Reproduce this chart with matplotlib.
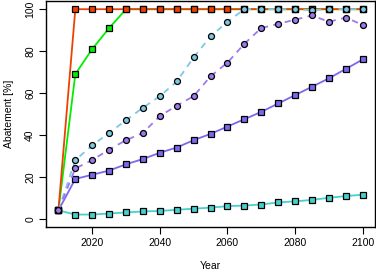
import matplotlib
matplotlib.use("Agg")
import matplotlib.pyplot as plt

plt.rcParams['font.family'] = ['Liberation Sans', 'DejaVu Sans']

years = list(range(2010, 2101, 5))

orange = [4] + [100] * 18
green = [4, 69, 81, 91] + [100] * 15
skyblue = [4, 28, 35, 41, 47, 53, 58.5, 65.5, 77, 87, 94, 100, 100, 100, 100, 99.5, 100, 100, 100]
purple_dash = [4, 24, 28, 33, 37.5, 41, 49, 54, 58.5, 68, 74.5, 83.5, 91, 93, 95, 97, 94, 96, 92.5]
purple = [4, 19, 21, 23, 26, 28.5, 31.5, 34, 37.5, 40.5, 44, 47.5, 51, 55, 59, 63, 67, 71.5, 76]
turq = [4, 2, 2, 2.5, 3, 3.5, 3.7, 4.3, 4.8, 5.3, 6, 6.3, 6.8, 7.8, 8.3, 9, 10, 10.8, 11.5]

fig = plt.figure(figsize=(3.76, 2.73), dpi=100)
ax = fig.add_axes([0.123, 0.168, 0.874, 0.829])

sq = dict(marker='s', ms=3.8, mec='black', mew=0.9, lw=1.3)
ci = dict(marker='o', ms=4.3, mec='black', mew=0.9, lw=1.3, ls=(0, (3.5, 3)))

ax.plot(years, turq, color='#48D1CC', **sq)
ax.plot(years, purple, color='#7B68EE', **sq)
ax.plot(years, green, color='#00EE00', **sq)
ax.plot(years, orange, color='#EE4000', **sq)
ax.plot(years, skyblue, color='#7EC8E3', **ci)
ax.plot(years, purple_dash, color='#9F79EE', **ci)

ax.set_xlim(2006.4, 2103.6)
ax.set_ylim(-4, 104)
ax.set_xticks([2020, 2040, 2060, 2080, 2100])
ax.set_yticks([0, 20, 40, 60, 80, 100])
ax.tick_params(labelsize=7.5, length=5, width=0.8, pad=3)
for lab in ax.get_yticklabels():
    lab.set_rotation(90)
    lab.set_va('center')
ax.set_xlabel("Year", fontsize=7.5, labelpad=9)
ax.set_ylabel("Abatement [%]", fontsize=7.5, labelpad=8)
for s in ax.spines.values():
    s.set_linewidth(1.0)

fig.savefig("out.png", dpi=100)
